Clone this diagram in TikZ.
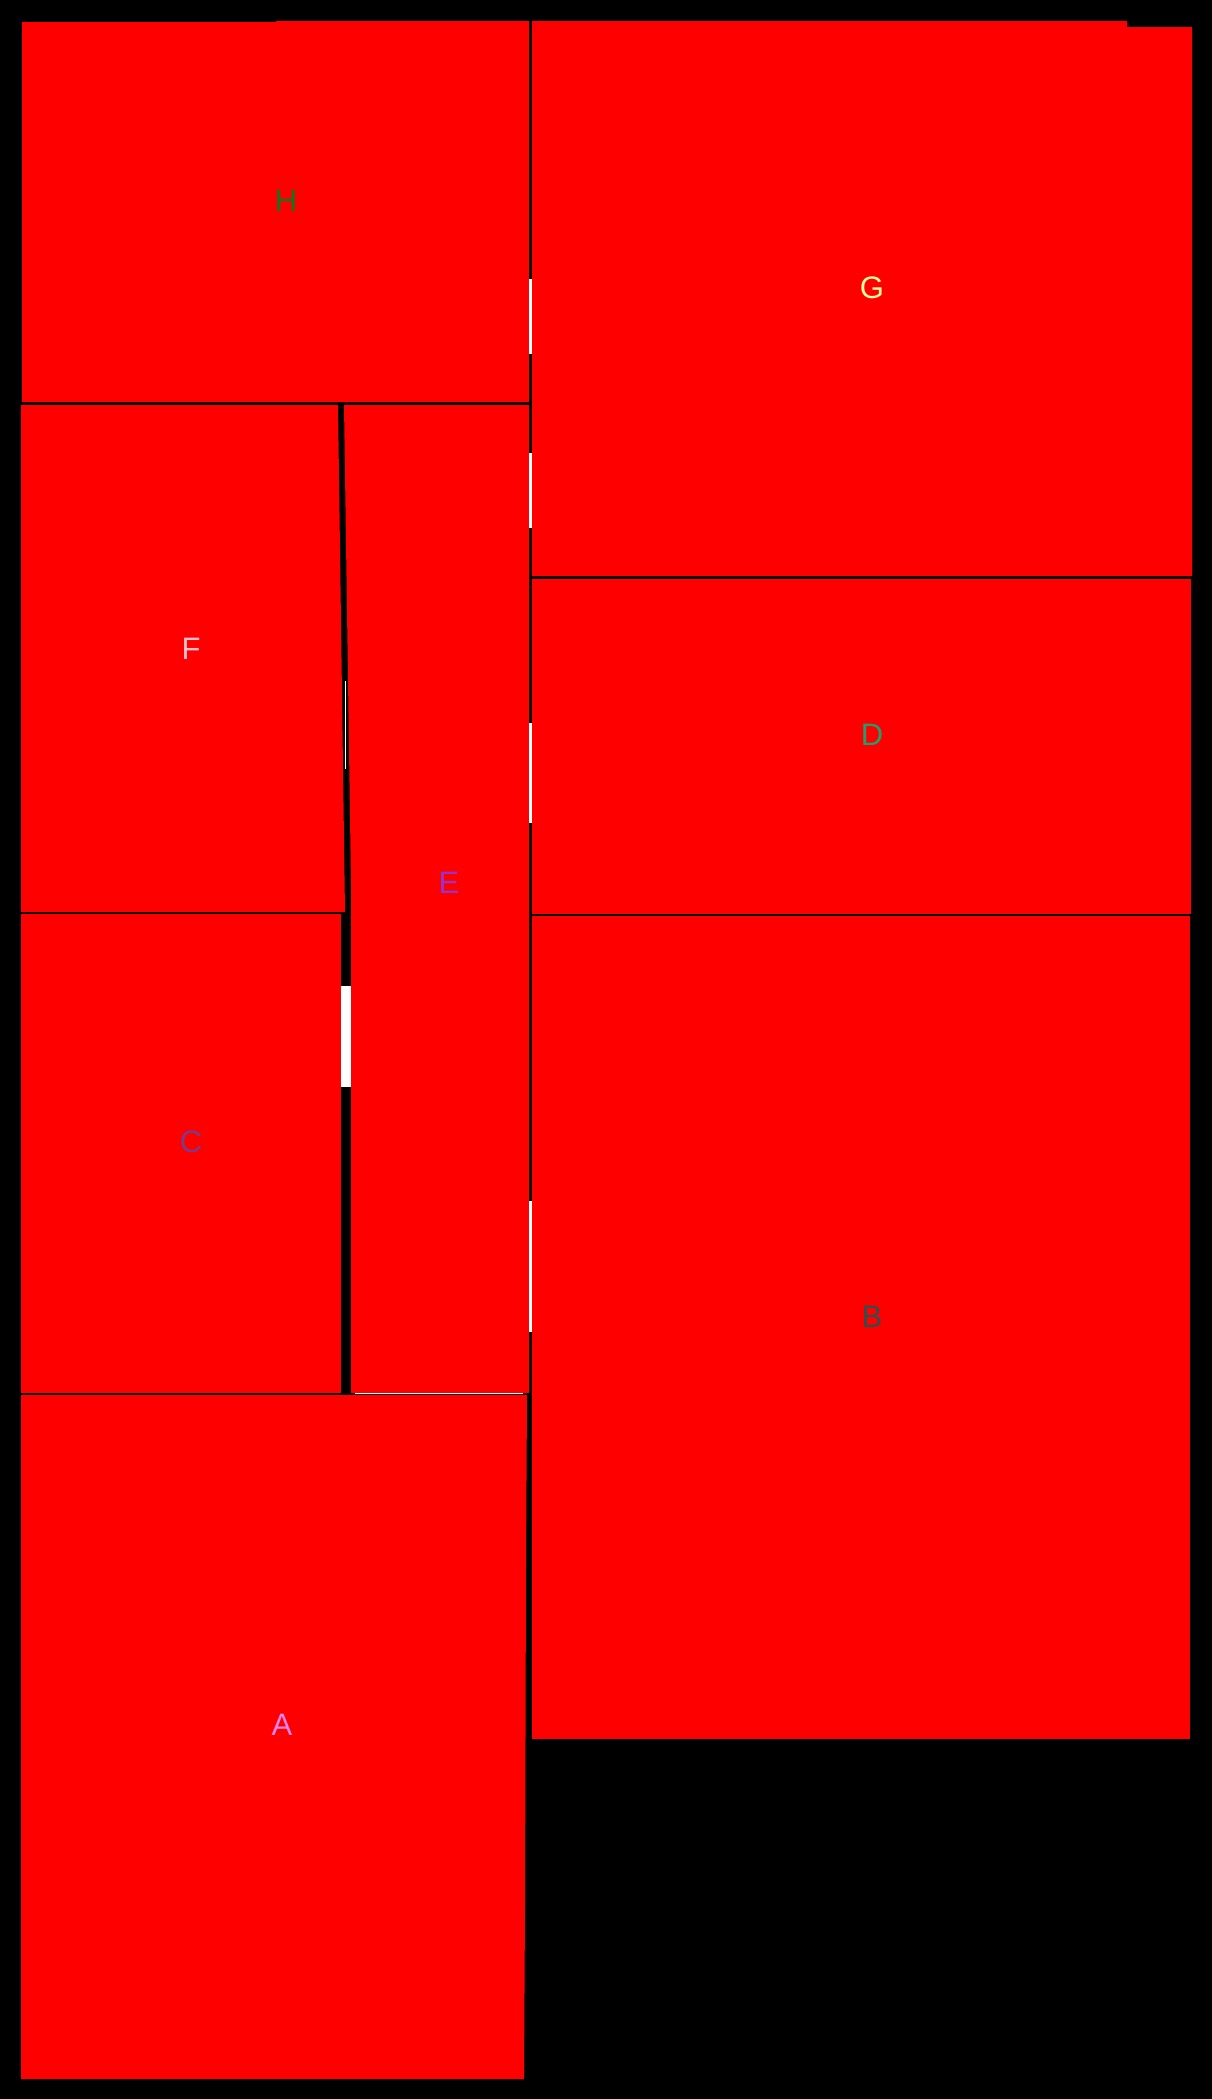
\documentclass[tikz,border=0pt]{standalone}
\usepackage{fontspec}
\setsansfont{Liberation Sans}

\definecolor{labH}{RGB}{10,120,30}
\definecolor{labG}{RGB}{255,255,160}
\definecolor{labF}{RGB}{255,192,203}
\definecolor{labE}{RGB}{153,50,204}
\definecolor{labD}{RGB}{30,160,110}
\definecolor{labC}{RGB}{120,60,140}
\definecolor{labB}{RGB}{47,79,79}
\definecolor{labA}{RGB}{238,130,238}

\tikzset{
    room/.style={fill=red},
    gapmark/.style={fill=white},
    roomlabel/.style={inner sep=0pt, font=\sffamily\fontsize{31}{31}\selectfont}
}

\begin{document}
\begin{tikzpicture}[x=1pt, y=-1pt]

% Background
\fill[black] (0,0) rectangle (1212,2099);
\useasboundingbox (0,0) rectangle (1212,2099);

% Left column
\fill[room] (22,22) -- (276,22) -- (276,21) -- (529,21) -- (529,402) -- (22,402) -- cycle;
\fill[room] (21,405) -- (338,405) -- (345,912) -- (21,912) -- cycle;
\fill[room] (344,405) -- (529,405) -- (529,1393) -- (351,1393) -- (351,885) -- cycle;
\fill[room] (21,914) rectangle (341,1393);
\fill[room] (21,1395) -- (527,1395) -- (526,1565) -- (525,1906) -- (524,2079) -- (21,2079) -- cycle;

% Right column
\fill[room] (532,21) -- (1127,21) -- (1127,27) -- (1192,27) -- (1192,576) -- (532,576) -- cycle;
\fill[room] (532,579) rectangle (1191,914);
\fill[room] (532,916) rectangle (1190,1739);

% White gaps in the walls
\fill[gapmark] (529,279) rectangle (532,354);
\fill[gapmark] (529,453) rectangle (532,528);
\fill[gapmark] (529,723) rectangle (532,823);
\fill[gapmark] (529,1201) rectangle (532,1332);
\fill[gapmark] (341,986) rectangle (351,1087);
\draw[white, line width=1pt] (345,681) -- (345,769);
\draw[white, line width=1pt] (355,1393) -- (523,1393);

% Labels
\node[roomlabel, text=labH] (H) at (286,201) {H};
\node[roomlabel, text=labG] (G) at (872,288) {G};
\node[roomlabel, text=labF] (F) at (191,649) {F};
\node[roomlabel, text=labE] (E) at (449,883) {E};
\node[roomlabel, text=labD] (D) at (872,735) {D};
\node[roomlabel, text=labC] (C) at (191,1142) {C};
\node[roomlabel, text=labB] (B) at (872,1317) {B};
\node[roomlabel, text=labA] (A) at (282,1725) {A};

\end{tikzpicture}
\end{document}
